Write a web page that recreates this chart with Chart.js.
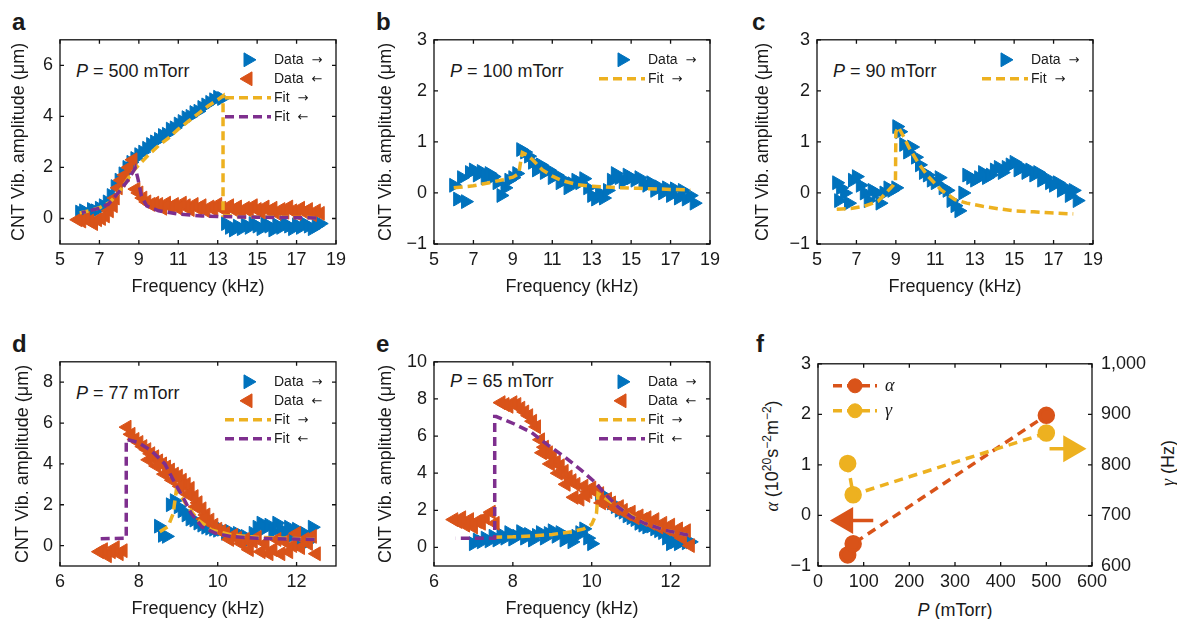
<!DOCTYPE html>
<html>
<head>
<meta charset="utf-8">
<script src="https://cdn.jsdelivr.net/npm/chart.js@4.4.1/dist/chart.umd.min.js"></script>
<style>
  body { margin: 0; background: #fff; width: 1177px; height: 619px; position: relative; overflow: hidden;
         font-family: "Liberation Sans", Arial, Helvetica, sans-serif; color: #1a1a1a; }
  canvas { position: absolute; }
  .lbl { position: absolute; font-size: 24px; font-weight: bold; line-height: 24px; }
  .press { position: absolute; font-size: 18px; line-height: 18px; white-space: nowrap; }
  .rot { position: absolute; font-size: 18px; line-height: 18px; white-space: nowrap;
         transform: translate(-50%, -50%) rotate(-90deg); }
  .greek { font-family: "Liberation Serif", "DejaVu Serif", serif; font-style: italic; }
  sup { font-size: 12px; vertical-align: 7px; line-height: 0; }
</style>
</head>
<body>
<div class="lbl" style="left:12px;top:10px">a</div>
<div class="lbl" style="left:376px;top:10px">b</div>
<div class="lbl" style="left:752px;top:10px">c</div>
<div class="lbl" style="left:12px;top:332px">d</div>
<div class="lbl" style="left:376px;top:332px">e</div>
<div class="lbl" style="left:756px;top:332px">f</div>

<div class="press" style="left:76px;top:62px"><i>P</i> = 500 mTorr</div>
<div class="press" style="left:450px;top:62px"><i>P</i> = 100 mTorr</div>
<div class="press" style="left:833px;top:62px"><i>P</i> = 90 mTorr</div>
<div class="press" style="left:76px;top:384px"><i>P</i> = 77 mTorr</div>
<div class="press" style="left:450px;top:372px"><i>P</i> = 65 mTorr</div>

<div class="rot" style="left:772px;top:456px"><span class="greek">α</span> (10<sup>20</sup>s<sup>−2</sup>m<sup>−2</sup>)</div>
<div class="rot" style="left:1168px;top:463px"><span class="greek">γ</span> (Hz)</div>
<div class="press" style="left:955px;top:601px;transform:translateX(-50%)"><i>P</i> (mTorr)</div>

<script>
"use strict";

// ---- data ----
const aDataUp = [[6.0,0.25],[6.2,0.3],[6.4,0.2],[6.6,0.35],[6.8,0.3],[7.0,0.4],[7.2,0.5],[7.4,0.65],[7.6,0.9],[7.8,1.25],
  [8.0,1.5],[8.2,1.75],[8.4,2.0],[8.6,2.2],[8.8,2.35],[9.0,2.5],[9.2,2.6],[9.4,2.75],[9.6,2.9],[9.8,3.0],
  [10.0,3.1],[10.2,3.25],[10.4,3.3],[10.6,3.5],[10.8,3.55],[11.0,3.7],[11.2,3.8],[11.4,3.95],[11.6,4.0],[11.8,4.15],
  [12.0,4.2],[12.2,4.35],[12.4,4.45],[12.6,4.55],[12.8,4.65],[13.0,4.75],[13.2,4.7],[13.4,-0.2],[13.6,-0.35],[13.8,-0.45],
  [14.0,-0.3],[14.2,-0.4],[14.4,-0.25],[14.6,-0.35],[14.8,-0.2],[15.0,-0.3],[15.2,-0.4],[15.4,-0.2],[15.6,-0.3],[15.8,-0.45],
  [16.0,-0.25],[16.2,-0.35],[16.4,-0.2],[16.6,-0.3],[16.8,-0.4],[17.0,-0.25],[17.2,-0.35],[17.4,-0.2],[17.6,-0.3],[17.8,-0.4],
  [18.0,-0.3],[18.2,-0.2]];
const aDataDown = [[18.2,0.2],[18.0,0.3],[17.8,0.15],[17.6,0.35],[17.4,0.25],[17.2,0.4],[17.0,0.2],[16.8,0.3],[16.6,0.45],[16.4,0.25],
  [16.2,0.35],[16.0,0.2],[15.8,0.4],[15.6,0.3],[15.4,0.45],[15.2,0.25],[15.0,0.35],[14.8,0.5],[14.6,0.3],[14.4,0.4],
  [14.2,0.25],[14.0,0.45],[13.8,0.35],[13.6,0.5],[13.4,0.3],[13.2,0.4],[13.0,0.55],[12.8,0.35],[12.6,0.45],[12.4,0.3],
  [12.2,0.5],[12.0,0.4],[11.8,0.55],[11.6,0.35],[11.4,0.5],[11.2,0.6],[11.0,0.4],[10.8,0.55],[10.6,0.45],[10.4,0.6],
  [10.2,0.4],[10.0,0.55],[9.8,0.6],[9.6,0.55],[9.4,0.65],[9.2,0.8],[9.0,1.0],[8.85,1.15],[8.7,2.3],[8.5,2.0],
  [8.3,1.7],[8.1,1.5],[7.95,1.2],[7.8,0.8],[7.7,0.5],[7.5,0.3],[7.3,0.1],[7.1,0.0],[6.9,-0.05],[6.7,-0.2],
  [6.5,-0.1],[6.3,0.0],[6.1,-0.1],[5.9,-0.05]];
const aFitUp = [[6.0,0.22],[6.5,0.3],[7.0,0.42],[7.5,0.62],[7.8,0.85],[8.1,1.15],[8.4,1.5],[8.7,1.85],[9.0,2.1],[9.5,2.5],
  [10.0,2.85],[10.5,3.15],[11.0,3.5],[11.5,3.8],[12.0,4.1],[12.5,4.4],[13.0,4.65],[13.27,4.8],[13.27,0.12],[14.0,0.08],
  [15.0,0.06],[16.0,0.05],[17.0,0.04],[18.0,0.03]];
const aFitDown = [[18.0,0.02],[17.0,0.03],[16.0,0.04],[15.0,0.05],[14.0,0.06],[13.0,0.08],[12.2,0.1],[11.0,0.17],[10.0,0.3],[9.4,0.49],
  [9.13,0.88],[8.96,1.53],[8.82,1.98],[8.45,1.5],[7.95,1.0],[7.45,0.56],[6.95,0.39],[6.1,0.23]];

const bDataUp = [[6.0,0.15],[6.2,-0.12],[6.4,0.3],[6.6,-0.17],[6.8,0.4],[7.0,0.45],[7.2,0.35],[7.4,0.42],[7.6,0.3],[7.8,0.38],
  [8.0,0.32],[8.2,0.2],[8.4,-0.05],[8.6,0.1],[8.8,0.25],[9.0,0.3],[9.2,0.38],[9.4,0.85],[9.6,0.8],[9.8,0.72],
  [10.0,0.6],[10.2,0.45],[10.4,0.55],[10.6,0.4],[10.8,0.45],[11.0,0.3],[11.2,0.35],[11.4,0.2],[11.6,0.25],[11.8,0.1],
  [12.0,0.18],[12.2,0.25],[12.4,0.2],[12.6,0.28],[12.8,0.1],[13.0,-0.05],[13.2,-0.12],[13.4,0.0],[13.6,-0.1],[13.8,0.05],
  [14.0,0.25],[14.2,0.38],[14.4,0.3],[14.6,0.22],[14.8,0.35],[15.0,0.3],[15.2,0.25],[15.4,0.3],[15.6,0.2],[15.8,0.15],
  [16.0,0.2],[16.2,0.05],[16.4,0.12],[16.6,0.0],[16.8,0.1],[17.0,-0.05],[17.2,0.08],[17.4,-0.1],[17.6,0.05],[17.8,-0.12],
  [18.0,-0.05],[18.2,-0.2]];
const bFitUp = [[6.0,0.1],[7.0,0.14],[7.8,0.2],[8.5,0.26],[9.0,0.31],[9.3,0.38],[9.4,0.62],[9.48,0.79],[9.7,0.75],[10.0,0.65],
  [10.5,0.45],[11.0,0.33],[11.5,0.24],[12.3,0.16],[13.0,0.13],[14.0,0.11],[15.4,0.09],[17.0,0.07],[18.0,0.06]];

const cDataUp = [[6.0,0.2],[6.1,-0.15],[6.2,0.1],[6.4,0.0],[6.6,-0.2],[6.8,0.25],[7.0,0.32],[7.2,0.15],[7.4,0.0],[7.6,-0.15],
  [7.8,0.05],[8.0,0.0],[8.2,-0.2],[8.4,0.0],[8.6,0.1],[8.8,0.05],[9.0,0.1],[9.05,1.3],[9.2,1.2],[9.4,0.95],
  [9.6,0.8],[9.8,0.9],[10.0,0.7],[10.2,0.55],[10.4,0.4],[10.6,0.35],[10.8,0.25],[11.0,0.2],[11.2,0.3],[11.4,0.1],
  [11.6,0.05],[11.8,-0.15],[12.0,-0.25],[12.2,-0.35],[12.4,0.0],[12.6,0.35],[12.8,0.3],[13.0,0.25],[13.2,0.3],[13.4,0.4],
  [13.6,0.3],[13.8,0.35],[14.0,0.45],[14.2,0.5],[14.4,0.4],[14.6,0.5],[14.8,0.55],[15.0,0.6],[15.2,0.45],[15.4,0.5],
  [15.6,0.4],[15.8,0.45],[16.0,0.35],[16.2,0.4],[16.4,0.25],[16.6,0.3],[16.8,0.2],[17.0,0.15],[17.2,0.2],[17.4,0.05],
  [17.6,0.1],[17.8,-0.05],[18.0,0.05],[18.2,-0.15]];
const cFitUp = [[6.0,-0.32],[6.8,-0.3],[7.4,-0.26],[8.1,-0.16],[8.5,0.0],[8.87,0.15],[8.98,0.22],[9.0,1.19],[9.13,1.29],[9.4,1.1],
  [9.65,0.9],[10.15,0.58],[10.65,0.32],[11.3,0.06],[12.0,-0.13],[12.6,-0.2],[13.4,-0.26],[14.2,-0.31],[15.0,-0.35],[16.0,-0.37],
  [16.8,-0.39],[18.0,-0.41]];

const dDataUp = [[8.5,0.95],[8.6,0.5],[8.7,0.45],[8.8,2.0],[8.9,2.2],[9.0,1.9],[9.1,1.7],[9.2,1.5],[9.3,1.3],[9.4,1.25],
  [9.5,1.1],[9.6,1.0],[9.7,0.9],[9.8,0.85],[9.9,0.8],[10.0,0.75],[10.1,0.8],[10.2,0.6],[10.3,0.7],[10.4,0.55],
  [10.5,0.6],[10.6,0.5],[10.7,0.45],[10.8,0.3],[10.9,0.6],[11.0,0.9],[11.1,1.1],[11.2,0.85],[11.3,1.0],[11.4,0.7],
  [11.5,1.1],[11.6,0.8],[11.7,0.6],[11.8,0.9],[11.9,0.5],[12.0,0.8],[12.1,0.3],[12.2,0.6],[12.3,0.2],[12.4,0.9]];
const dDataDown = [[12.5,-0.4],[12.4,0.45],[12.3,0.1],[12.2,0.3],[12.1,-0.1],[12.0,0.6],[11.9,0.0],[11.8,-0.3],[11.7,0.2],[11.6,-0.4],
  [11.5,0.3],[11.4,-0.2],[11.3,-0.4],[11.2,0.1],[11.1,-0.3],[11.0,0.4],[10.9,0.2],[10.8,-0.2],[10.7,0.3],[10.6,0.1],
  [10.5,0.35],[10.4,0.5],[10.3,0.3],[10.2,0.6],[10.1,0.7],[10.0,0.8],[9.9,1.0],[9.8,1.25],[9.7,1.5],[9.6,1.8],
  [9.5,2.1],[9.4,2.4],[9.3,2.8],[9.2,3.0],[9.1,3.2],[9.0,3.4],[8.9,3.5],[8.8,3.7],[8.7,3.85],[8.6,4.0],
  [8.5,4.15],[8.4,4.35],[8.3,4.5],[8.2,4.7],[8.1,4.85],[8.0,5.05],[7.9,5.2],[7.8,5.45],[7.7,5.8],[7.6,-0.25],
  [7.5,-0.4],[7.4,-0.1],[7.3,-0.3],[7.2,-0.5],[7.1,-0.2],[7.0,-0.3],
  [9.65,1.3],[9.45,1.9],[9.25,2.5],[9.05,2.9],[8.85,3.2],[8.65,3.5],[8.45,3.9],[8.25,4.2]];
const dFitUp = [[8.53,0.68],[8.74,0.92],[8.87,1.57],[8.95,2.7],[9.08,2.38],[9.25,1.89],[9.5,1.25],[9.84,0.76],[10.35,0.52],[11.03,0.4],
  [11.7,0.36],[12.46,0.31]];
const dFitDown = [[12.46,0.3],[11.9,0.32],[11.0,0.36],[10.35,0.44],[9.95,0.6],[9.6,0.92],[9.33,1.57],[9.16,2.22],[8.92,3.03],[8.66,4.0],
  [8.32,4.64],[7.98,5.05],[7.68,5.2],[7.68,0.36],[7.3,0.35],[6.98,0.33]];

const eDataUp = [[7.0,0.2],[7.1,0.4],[7.2,0.3],[7.3,0.5],[7.4,0.35],[7.5,0.6],[7.6,0.4],[7.7,0.7],[7.8,0.5],[7.9,0.8],
  [8.0,0.45],[8.1,0.6],[8.2,0.85],[8.3,0.5],[8.4,0.7],[8.5,0.4],[8.6,0.65],[8.7,0.8],[8.8,0.5],[8.9,0.75],
  [9.0,0.9],[9.1,0.6],[9.2,0.8],[9.3,0.4],[9.4,0.55],[9.5,0.3],[9.6,0.6],[9.7,0.8],[9.8,1.0],[9.9,0.5],
  [10.0,0.2],[10.2,2.9],[10.3,2.8],[10.4,2.6],[10.5,2.4],[10.6,2.2],[10.7,2.0],[10.8,1.9],[10.9,1.7],[11.0,1.6],
  [11.1,1.5],[11.2,1.3],[11.3,1.2],[11.4,1.1],[11.5,1.15],[11.6,1.0],[11.7,0.9],[11.8,0.8],[11.9,0.5],[12.0,0.2],
  [12.1,0.3],[12.2,0.2],[12.3,0.35],[12.4,0.25],[12.5,0.3]];
const eDataDown = [[12.5,0.1],[12.4,0.9],[12.3,0.5],[12.2,1.0],[12.1,0.8],[12.0,1.2],[11.9,1.0],[11.8,1.3],[11.7,1.1],[11.6,1.5],
  [11.5,1.3],[11.4,1.6],[11.3,1.5],[11.2,1.7],[11.1,1.6],[11.0,1.9],[10.9,1.8],[10.8,2.0],[10.7,2.2],[10.6,2.1],
  [10.5,2.4],[10.4,2.6],[10.3,2.5],[10.2,2.9],[10.1,3.0],[10.0,3.2],[9.9,3.0],[9.8,3.3],[9.7,2.6],[9.6,3.4],
  [9.5,3.6],[9.4,3.8],[9.3,4.1],[9.2,4.4],[9.1,4.6],[9.0,4.9],[8.9,5.1],[8.8,5.4],[8.7,5.8],[8.6,6.5],
  [8.5,6.8],[8.4,7.1],[8.3,7.3],[8.2,7.5],[8.1,7.7],[8.0,7.8],[7.9,7.6],[7.8,7.7],[7.7,7.8],[7.55,1.3],
  [7.45,1.9],[7.3,1.6],[7.2,1.3],[7.1,1.4],[7.0,1.1],[6.9,1.5],[6.8,1.2],[6.7,1.6],[6.6,1.4],[6.5,1.5],
  [9.55,2.7],[9.35,3.4],[9.15,4.0],[8.95,4.5],[8.75,5.1],[9.85,2.8],[10.25,2.4]];
const eFitUp = [[7.5,0.55],[8.0,0.57],[8.5,0.62],[9.0,0.7],[9.5,0.85],[9.8,1.0],[10.0,1.25],[10.12,1.82],[10.16,2.9],[10.42,2.54],
  [10.67,2.2],[11.0,1.7],[11.35,1.3],[11.86,0.93],[12.45,0.66]];
const eFitDown = [[12.45,0.66],[11.86,0.93],[11.35,1.29],[11.0,1.65],[10.67,2.18],[10.33,2.9],[10.08,3.52],[9.74,4.15],[9.32,4.87],[8.9,5.5],
  [8.47,6.2],[8.04,6.65],[7.58,7.05],[7.54,7.05],[7.54,0.5],[7.0,0.5],[6.55,0.5]];

const fPressure = [65, 77, 500];
const fAlpha = [-0.78, -0.56, 1.98];
const fGamma = [803, 741, 863];
const fAlphaArrow = [[121, -0.1], [60, -0.1]];
const fGammaArrow = [[507, 832], [554, 832]];

const freqTicksWide = [5, 7, 9, 11, 13, 15, 17, 19];
const freqTicksNarrow = [6, 8, 10, 12];
const ampTicksA = [0, 2, 4, 6];
const ampTicksBC = [-1, 0, 1, 2, 3];
const ampTicksD = [0, 2, 4, 6, 8];
const ampTicksE = [0, 2, 4, 6, 8, 10];
const pressTicks = [0, 100, 200, 300, 400, 500, 600];
const alphaTicks = [-1, 0, 1, 2, 3];
const gammaTicks = [600, 700, 800, 900, 1000];

// ---- styling ----
const BLUE = "#0072BD", ORANGE = "#D95319", YELLOW = "#EDB120", PURPLE = "#7E2F8E";
const FONT = '"Liberation Sans", Arial, Helvetica, sans-serif';
const INK = "#1a1a1a";

const toXY = (arr) => arr.map(([x, y]) => ({ x, y }));
const fmtNum = (v) => (v < 0 ? "\u2212" + Math.abs(v) : String(v));

const dataSet = (arr, color, dir, order) => ({
	data: toXY(arr),
	pointStyle: "triangle",
	rotation: dir,
	pointRadius: 8,
	pointBackgroundColor: color,
	pointBorderColor: color,
	pointBorderWidth: 1,
	showLine: false,
	clip: false,
	order: order,
});

const fitSet = (arr, color, order) => ({
	data: toXY(arr),
	showLine: true,
	borderColor: color,
	borderWidth: 3.5,
	borderDash: [9, 5],
	pointRadius: 0,
	fill: false,
	clip: false,
	order: order,
});

const panelDeco = {
	id: "panelDeco",
	afterDatasetsDraw(chart, args, opts) {
		const { ctx, chartArea: a, scales } = chart;
		ctx.save();
		ctx.strokeStyle = "#111";
		ctx.lineWidth = 1.3;
		ctx.setLineDash([]);
		ctx.strokeRect(a.left, a.top, a.right - a.left, a.bottom - a.top);
		const tl = 4;
		ctx.beginPath();
		scales.x.ticks.forEach((t) => {
			const px = scales.x.getPixelForValue(t.value);
			ctx.moveTo(px, a.bottom);
			ctx.lineTo(px, a.bottom - tl);
			ctx.moveTo(px, a.top);
			ctx.lineTo(px, a.top + tl);
		});
		scales.y.ticks.forEach((t) => {
			const py = scales.y.getPixelForValue(t.value);
			ctx.moveTo(a.left, py);
			ctx.lineTo(a.left + tl, py);
			ctx.moveTo(a.right, py);
			ctx.lineTo(a.right - tl, py);
		});
		ctx.stroke();

		const items = opts.items || [];
		items.forEach((it, i) => {
			const base = opts.fromLeft ? a.left : a.right;
			const cx = base + opts.mx;
			const cy = a.top + opts.my + i * opts.dy;
			if (it.line) {
				ctx.strokeStyle = it.color;
				ctx.lineWidth = 3.5;
				ctx.setLineDash([9, 5]);
				ctx.beginPath();
				ctx.moveTo(cx - opts.half, cy);
				ctx.lineTo(cx + opts.half, cy);
				ctx.stroke();
				ctx.setLineDash([]);
			}
			if (it.marker) {
				ctx.fillStyle = it.color;
				ctx.strokeStyle = it.color;
				ctx.lineWidth = 1;
				Chart.helpers.drawPoint(ctx, { pointStyle: it.marker, radius: it.r, rotation: it.rot || 0, borderWidth: 1 }, cx, cy);
			}
			ctx.fillStyle = INK;
			ctx.font = it.font || "14px " + FONT;
			ctx.textBaseline = "middle";
			ctx.textAlign = "left";
			const tx = base + opts.tx;
			ctx.fillText(it.text, tx, cy);
			if (it.arrow) {
				const wText = ctx.measureText(it.text).width;
				ctx.font = '13px "DejaVu Sans", sans-serif';
				ctx.fillText(it.arrow, tx + wText + 8, cy + 1);
			}
		});
		ctx.restore();
	},
};

const tickFont = { family: FONT, size: 18 };

function axisX(min, max, ticks, title, H) {
	return {
		type: "linear",
		min: min,
		max: max,
		afterBuildTicks: (s) => { s.ticks = ticks.map((v) => ({ value: v })); },
		afterFit: (s) => { s.height = H; },
		grid: { display: false, drawTicks: false },
		border: { display: false },
		ticks: { font: tickFont, color: INK, padding: 5, autoSkip: false, maxRotation: 0, callback: fmtNum },
		title: { display: !!title, text: title, font: tickFont, color: INK, padding: 0 },
	};
}

function axisY(min, max, ticks, title, W, pos, fmt) {
	return {
		type: "linear",
		position: pos || "left",
		min: min,
		max: max,
		afterBuildTicks: (s) => { s.ticks = ticks.map((v) => ({ value: v })); },
		afterFit: (s) => { s.width = W; },
		grid: { display: false, drawTicks: false },
		border: { display: false },
		ticks: { font: tickFont, color: INK, padding: pos === "right" ? 9 : 7, autoSkip: false, callback: fmt || fmtNum },
		title: { display: !!title, text: title, font: tickFont, color: INK, padding: 0 },
	};
}

function makePanel(p) {
	const PT = 16, H = 54;
	const PR = p.WR ? 0 : 24;
	const w = p.box.r - p.box.l, h = p.box.b - p.box.t;
	const cv = document.createElement("canvas");
	cv.width = p.W + w + PR + (p.WR || 0);
	cv.height = PT + h + H;
	cv.style.left = p.box.l - p.W + "px";
	cv.style.top = p.box.t - PT + "px";
	document.body.appendChild(cv);

	const scales = {
		x: axisX(p.xr[0], p.xr[1], p.xt, p.xTitle, H),
		y: axisY(p.yr[0], p.yr[1], p.yt, p.yTitle, p.W),
	};
	if (p.y2) scales.y2 = p.y2;

	return new Chart(cv, {
		type: "scatter",
		data: { datasets: p.datasets },
		options: {
			responsive: false,
			maintainAspectRatio: false,
			animation: false,
			events: [],
			layout: { padding: { top: PT, right: PR, left: 0, bottom: 0 } },
			scales: scales,
			plugins: { legend: { display: false }, tooltip: { enabled: false }, panelDeco: p.legend },
		},
		plugins: [panelDeco],
	});
}

const FREQ = "Frequency (kHz)";
const AMP = "CNT Vib. amplitude (\u03bcm)";
const RIGHT = "\u2192", LEFT = "\u2190";

const legend4 = {
	mx: -88, tx: -62, my: 20, dy: 19, half: 23,
	items: [
		{ marker: "triangle", rot: 90, r: 8, color: BLUE, text: "Data", arrow: RIGHT },
		{ marker: "triangle", rot: -90, r: 8, color: ORANGE, text: "Data", arrow: LEFT },
		{ line: true, color: YELLOW, text: "Fit", arrow: RIGHT },
		{ line: true, color: PURPLE, text: "Fit", arrow: LEFT },
	],
};
const legend2 = {
	mx: -88, tx: -62, my: 20, dy: 19, half: 23,
	items: [
		{ marker: "triangle", rot: 90, r: 8, color: BLUE, text: "Data", arrow: RIGHT },
		{ line: true, color: YELLOW, text: "Fit", arrow: RIGHT },
	],
};

makePanel({
	box: { l: 60, t: 38, r: 336, b: 244 }, W: 52,
	xr: [5, 19], xt: freqTicksWide, xTitle: FREQ,
	yr: [-1, 7], yt: ampTicksA, yTitle: AMP,
	legend: legend4,
	datasets: [
		dataSet(aDataUp, BLUE, 90, 4),
		dataSet(aDataDown, ORANGE, -90, 3),
		fitSet(aFitUp, YELLOW, 2),
		fitSet(aFitDown, PURPLE, 1),
	],
});

makePanel({
	box: { l: 434, t: 38, r: 710, b: 244 }, W: 59,
	xr: [5, 19], xt: freqTicksWide, xTitle: FREQ,
	yr: [-1, 3], yt: ampTicksBC, yTitle: AMP,
	legend: legend2,
	datasets: [dataSet(bDataUp, BLUE, 90, 4), fitSet(bFitUp, YELLOW, 2)],
});

makePanel({
	box: { l: 817, t: 38, r: 1093, b: 244 }, W: 65,
	xr: [5, 19], xt: freqTicksWide, xTitle: FREQ,
	yr: [-1, 3], yt: ampTicksBC, yTitle: AMP,
	legend: legend2,
	datasets: [dataSet(cDataUp, BLUE, 90, 4), fitSet(cFitUp, YELLOW, 2)],
});

makePanel({
	box: { l: 60, t: 360, r: 336, b: 566 }, W: 48,
	xr: [6, 13], xt: freqTicksNarrow, xTitle: FREQ,
	yr: [-1, 9], yt: ampTicksD, yTitle: AMP,
	legend: legend4,
	datasets: [
		dataSet(dDataUp, BLUE, 90, 4),
		dataSet(dDataDown, ORANGE, -90, 3),
		fitSet(dFitUp, YELLOW, 2),
		fitSet(dFitDown, PURPLE, 1),
	],
});

makePanel({
	box: { l: 434, t: 360, r: 710, b: 566 }, W: 59,
	xr: [6, 13], xt: freqTicksNarrow, xTitle: FREQ,
	yr: [-1, 10], yt: ampTicksE, yTitle: AMP,
	legend: legend4,
	datasets: [
		dataSet(eDataUp, BLUE, 90, 4),
		dataSet(eDataDown, ORANGE, -90, 3),
		fitSet(eFitUp, YELLOW, 2),
		fitSet(eFitDown, PURPLE, 1),
	],
});

const pairUp = (xs, ys) => xs.map((x, i) => [x, ys[i]]);

makePanel({
	box: { l: 818, t: 360, r: 1092, b: 566 }, W: 40, WR: 70,
	xr: [0, 600], xt: pressTicks, xTitle: "",
	yr: [-1, 3], yt: alphaTicks, yTitle: "",
	y2: axisY(600, 1000, gammaTicks, "", 70, "right", (v) => v.toLocaleString("en-US")),
	legend: {
		fromLeft: true, mx: 37, tx: 67, my: 22, dy: 25, half: 22,
		items: [
			{ line: true, marker: "circle", r: 7, color: ORANGE, text: "\u03b1", font: "italic 18px \"Liberation Serif\", serif" },
			{ line: true, marker: "circle", r: 7, color: YELLOW, text: "\u03b3", font: "italic 18px \"Liberation Serif\", serif" },
		],
	},
	datasets: [
		{
			data: toXY(pairUp(fPressure, fAlpha)), yAxisID: "y", showLine: true,
			borderColor: ORANGE, borderWidth: 3.5, borderDash: [9, 6],
			pointRadius: 7, pointBackgroundColor: ORANGE, pointBorderColor: ORANGE, clip: false, order: 2,
		},
		{
			data: toXY(pairUp(fPressure, fGamma)), yAxisID: "y2", showLine: true,
			borderColor: YELLOW, borderWidth: 3.5, borderDash: [9, 6],
			pointRadius: 7, pointBackgroundColor: YELLOW, pointBorderColor: YELLOW, clip: false, order: 1,
		},
		{
			data: toXY(fAlphaArrow), yAxisID: "y", showLine: true,
			borderColor: ORANGE, borderWidth: 3.5,
			pointRadius: [0, 12], pointStyle: "triangle", rotation: -90,
			pointBackgroundColor: ORANGE, pointBorderColor: ORANGE, clip: false, order: 3,
		},
		{
			data: toXY(fGammaArrow), yAxisID: "y2", showLine: true,
			borderColor: YELLOW, borderWidth: 3.5,
			pointRadius: [0, 12], pointStyle: "triangle", rotation: 90,
			pointBackgroundColor: YELLOW, pointBorderColor: YELLOW, clip: false, order: 3,
		},
	],
});
</script>
</body>
</html>
